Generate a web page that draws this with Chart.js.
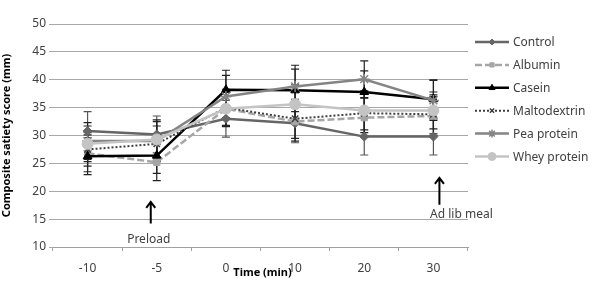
<!DOCTYPE html>
<html>
<head>
<meta charset="utf-8">
<script src="https://cdn.jsdelivr.net/npm/chart.js@4/dist/chart.umd.min.js"></script>
<style>
  html, body { margin: 0; padding: 0; background: #fff; }
  #wrap { width: 600px; height: 283px; }
</style>
</head>
<body>
<div id="wrap"><canvas id="myChart" width="600" height="283"></canvas></div>
<script>
// categories (time, min)
var times = ['-10', '-5', '0', '10', '20', '30'];
var yTicks = [10, 15, 20, 25, 30, 35, 40, 45, 50];

var seriesNames = ['Control', 'Albumin', 'Casein', 'Maltodextrin', 'Pea protein', 'Whey protein'];

var control      = [30.8, 30.2, 33.0, 32.2, 29.8, 29.8];
var albumin      = [26.8, 25.2, 34.8, 32.5, 33.2, 33.5];
var casein       = [26.3, 26.4, 38.2, 38.1, 37.8, 36.5];
var maltodextrin = [27.5, 28.5, 35.0, 33.0, 34.0, 33.8];
var peaProtein   = [29.0, 29.0, 37.0, 38.8, 40.1, 36.3];
var wheyProtein  = [28.5, 29.3, 34.8, 35.6, 34.5, 34.5];

// standard errors (+/-)
var controlErr      = [3.5, 3.3, 3.3, 3.5, 3.3, 3.3];
var albuminErr      = [3.3, 3.3, 3.2, 3.5, 3.5, 3.5];
var caseinErr       = [3.3, 3.2, 3.5, 3.8, 3.8, 3.5];
var maltodextrinErr = [3.0, 3.2, 3.3, 3.5, 3.5, 3.5];
var peaProteinErr   = [3.3, 3.5, 3.8, 3.8, 3.3, 3.6];
var wheyProteinErr  = [3.2, 3.5, 3.0, 3.5, 3.5, 3.3];

var FONT = "'Noto Sans', 'Open Sans', sans-serif";

function ds(label, data, err, color, style, radius, dash, width, order) {
  return {
    label: label,
    data: data,
    err: err,
    borderColor: color,
    backgroundColor: color,
    pointBackgroundColor: color,
    pointBorderColor: color,
    pointStyle: style,
    pointRadius: radius,
    pointBorderWidth: style === 'crossRot' || style === 'star' ? 1.5 : 1,
    borderWidth: width,
    borderDash: dash,
    tension: 0,
    order: order
  };
}

var newData = {
  labels: times,
  datasets: [
    ds(seriesNames[0], control, controlErr, '#666666', 'rectRot', 4.5, [], 2.5, 6),
    ds(seriesNames[1], albumin, albuminErr, '#a6a6a6', 'rect', 4.5, [7, 3], 2.5, 5),
    ds(seriesNames[2], casein, caseinErr, '#000000', 'triangle', 5, [], 2.5, 4),
    ds(seriesNames[3], maltodextrin, maltodextrinErr, '#404040', 'crossRot', 4.5, [2, 2], 2, 3),
    ds(seriesNames[4], peaProtein, peaProteinErr, '#848484', 'star', 5.5, [], 2.5, 2),
    ds(seriesNames[5], wheyProtein, wheyProteinErr, '#c4c4c4', 'circle', 5.5, [], 2.5, 1)
  ]
};

// error bars, drawn before the lines
var errorBars = {
  id: 'errorBars',
  beforeDatasetsDraw: function(chart) {
    var ctx = chart.ctx;
    var ys = chart.scales.y;
    ctx.save();
    chart.data.datasets.forEach(function(d, i) {
      var meta = chart.getDatasetMeta(i);
      ctx.strokeStyle = i === 0 ? '#555555' : '#222222';
      ctx.lineWidth = 1.2;
      meta.data.forEach(function(pt, j) {
        var top = ys.getPixelForValue(d.data[j] + d.err[j]);
        var bot = ys.getPixelForValue(d.data[j] - d.err[j]);
        ctx.beginPath();
        ctx.moveTo(pt.x, top); ctx.lineTo(pt.x, bot);
        ctx.moveTo(pt.x - 4, top); ctx.lineTo(pt.x + 4, top);
        ctx.moveTo(pt.x - 4, bot); ctx.lineTo(pt.x + 4, bot);
        ctx.stroke();
      });
    });
    ctx.restore();
  }
};

function arrow(ctx, x, y1, y2) {
  ctx.beginPath();
  ctx.moveTo(x, y2); ctx.lineTo(x, y1);
  ctx.moveTo(x - 4.5, y1 + 6); ctx.lineTo(x, y1); ctx.lineTo(x + 4.5, y1 + 6);
  ctx.stroke();
}

// annotations, x title and legend
var extras = {
  id: 'extras',
  afterDraw: function(chart) {
    var ctx = chart.ctx;
    var xs = chart.scales.x, ys = chart.scales.y;
    var area = chart.chartArea;
    ctx.save();
    ctx.strokeStyle = '#000';
    ctx.lineWidth = 2;
    ctx.fillStyle = '#404040';
    ctx.font = '12px ' + FONT;
    ctx.textAlign = 'center';
    ctx.textBaseline = 'middle';

    var px = xs.getPixelForValue(1) - 6;
    arrow(ctx, px, ys.getPixelForValue(18.1), ys.getPixelForValue(14.2));
    ctx.fillText('Preload', px - 2, ys.getPixelForValue(11.3));

    var ax = xs.getPixelForValue(5) + 6;
    arrow(ctx, ax, ys.getPixelForValue(22.4), ys.getPixelForValue(17.6));
    ctx.fillText('Ad lib meal', ax + 22, ys.getPixelForValue(15.9));

    // x title (overlaps tick labels like the original)
    ctx.fillStyle = '#000';
    ctx.font = 'bold 11px ' + FONT;
    ctx.fillText('Time (min)', xs.getPixelForValue(2.5) + 2, area.bottom + 26);

    // legend
    var lx = 475, ly = 42, step = 22.9;
    chart.data.datasets.forEach(function(d, i) {
      var y = ly + i * step;
      ctx.save();
      ctx.strokeStyle = d.borderColor;
      ctx.lineWidth = d.borderWidth;
      ctx.setLineDash(d.borderDash);
      ctx.beginPath();
      ctx.moveTo(lx, y); ctx.lineTo(lx + 34, y);
      ctx.stroke();
      ctx.restore();
      ctx.strokeStyle = d.borderColor;
      ctx.fillStyle = d.borderColor;
      ctx.lineWidth = d.pointBorderWidth;
      Chart.helpers.drawPoint(ctx, { pointStyle: d.pointStyle, radius: d.pointRadius - 1.5, rotation: 0, borderWidth: d.pointBorderWidth }, lx + 17, y);
      ctx.fillStyle = '#404040';
      ctx.font = '12px ' + FONT;
      ctx.textAlign = 'left';
      ctx.fillText(d.label, lx + 38, y + 1);
    });
    ctx.restore();
  }
};

var chartOptions = {
  responsive: false,
  animation: false,
  layout: { padding: { top: 24, right: 132, left: 0, bottom: 0 } },
  plugins: { legend: { display: false }, tooltip: { enabled: false } },
  scales: {
    x: {
      type: 'category',
      offset: true,
      grid: { offset: true, drawOnChartArea: false, drawTicks: true, tickLength: 4, color: '#a0a0a0' },
      border: { display: true, color: '#a0a0a0' },
      ticks: { color: '#404040', font: { family: FONT, size: 12 }, padding: 10, maxRotation: 0 },
      afterFit: function(s) { s.height = 36; }
    },
    y: {
      min: 10, max: 50,
      afterBuildTicks: function(s) { s.ticks = yTicks.map(function(v) { return { value: v }; }); },
      grid: { color: '#a8a8a8', tickLength: 4, lineWidth: 1 },
      border: { display: false },
      ticks: { color: '#404040', font: { family: FONT, size: 12 }, padding: 3 },
      title: { display: true, text: 'Composite satiety score (mm)', color: '#000', font: { family: FONT, size: 11, weight: 'bold' }, padding: 0 },
      afterFit: function(s) { s.width = 53; }
    }
  }
};

var ctx = document.getElementById('myChart').getContext('2d');
var myChart = new Chart(ctx, {
  type: 'line',
  data: newData,
  options: chartOptions,
  plugins: [errorBars, extras]
});
</script>
</body>
</html>
